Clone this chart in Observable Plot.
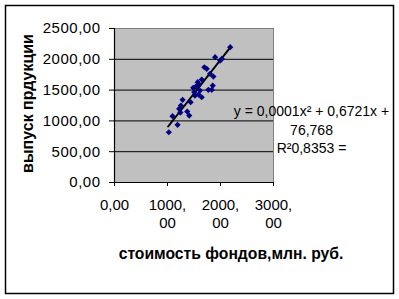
<!DOCTYPE html>
<html>
<head>
<meta charset="utf-8">
<script src="https://cdn.jsdelivr.net/npm/d3@7"></script>
<script src="https://cdn.jsdelivr.net/npm/@observablehq/plot@0.6"></script>
<style>
  body { margin: 0; background: #fff; }
  #chart { width: 399px; height: 299px; }
  #chart svg g[aria-label="y-axis tick label"] text { letter-spacing: 0.5px; }
</style>
</head>
<body>
<div id="chart"></div>
<script>
// Data
const fundCost = [1025, 1095, 1190, 1220, 1253, 1285, 1243, 1372, 1410, 1437, 1486, 1505, 1518, 1537, 1570, 1585, 1594, 1613, 1646, 1646, 1695, 1740, 1771, 1803, 1835, 1854, 1866, 1898, 1993, 2025, 2183];
const output   = [ 816, 1076,  936, 1196, 1250, 1342, 1136, 1152, 1087, 1303, 1537, 1466, 1412, 1558, 1628, 1428, 1590, 1493, 1672, 1384, 1871, 1845, 1504, 1764, 1504, 1574, 1720, 2034, 1980, 2008, 2196];
const trendX = [1012, 2196];
const trendY = [909, 2207];
const xTicks = [0, 1000, 2000, 3000];
const xTickLine1 = ["0,00", "1000,", "2000,", "3000,"];
const xTickLine2 = ["", "00", "00", "00"];
const yTicks = [0, 500, 1000, 1500, 2000, 2500];
const yTickLabels = ["0,00", "500,00", "1000,00", "1500,00", "2000,00", "2500,00"];
const gridValues = [500, 1000, 1500, 2000];
const equationText = "y = 0,0001x² + 0,6721x +\n76,768\nR²0,8353 =";
const xTitle = "стоимость фондов,млн. руб.";
const yTitle = "выпуск прдукции";

const points = fundCost.map((x, i) => ({x, y: output[i]}));
const trend = trendX.map((x, i) => ({x, y: trendY[i]}));
const FONT = "'Liberation Sans', Arial, sans-serif";

const plot = Plot.plot({
  width: 399,
  height: 299,
  marginLeft: 114,
  marginRight: 126,
  marginTop: 28,
  marginBottom: 117,
  style: {fontFamily: FONT, color: "#000", background: "transparent", overflow: "visible"},
  x: {domain: [0, 3000]},
  y: {domain: [0, 2500]},
  marks: [
    Plot.frame({fill: "#c0c0c0", stroke: "#808080"}),
    Plot.ruleY(gridValues, {stroke: "#000", strokeWidth: 1}),
    Plot.ruleY([0], {stroke: "#000", strokeWidth: 1.2}),
    Plot.ruleX([0], {stroke: "#000", strokeWidth: 1.2}),
    Plot.axisY({ticks: yTicks, tickFormat: (d) => yTickLabels[yTicks.indexOf(d)], tickSize: 5, tickPadding: 9, fontSize: 15, label: null, stroke: "#000", fill: "#000"}),
    Plot.axisX({ticks: xTicks, tickFormat: (d) => xTickLine1[xTicks.indexOf(d)], tickSize: 4, tickPadding: 13, fontSize: 15, label: null, stroke: "#000", fill: "#000"}),
    Plot.axisX({ticks: xTicks, tickFormat: (d) => xTickLine2[xTicks.indexOf(d)], tickSize: 0, tickPadding: 35, fontSize: 15, label: null, fill: "#000"}),
    Plot.line(trend, {x: "x", y: "y", stroke: "#000", strokeWidth: 2}),
    Plot.dot(points, {x: "x", y: "y", symbol: "diamond2", r: 2.8, fill: "#000080", stroke: "none"}),
    Plot.text([equationText], {text: d => d, frameAnchor: "right", dx: 38, dy: 23, textAnchor: "middle", lineHeight: 1.35, fontSize: 14, fill: "#000"}),
    Plot.text([xTitle], {text: d => d, frameAnchor: "bottom", dx: 37, dy: 76, textAnchor: "middle", fontSize: 15.7, fontWeight: "bold", fill: "#000"}),
    Plot.text([yTitle], {text: d => d, frameAnchor: "left", dx: -87, dy: -2, rotate: -90, textAnchor: "middle", fontSize: 16, fontWeight: "bold", fill: "#000"})
  ]
});

// outer chart-area border
d3.select(plot).insert("rect", ":first-child")
  .attr("x", 5.5).attr("y", 5.5).attr("width", 388).attr("height", 288)
  .attr("fill", "#fff").attr("stroke", "#000").attr("stroke-width", 1.5);

document.getElementById("chart").appendChild(plot);
</script>
</body>
</html>
